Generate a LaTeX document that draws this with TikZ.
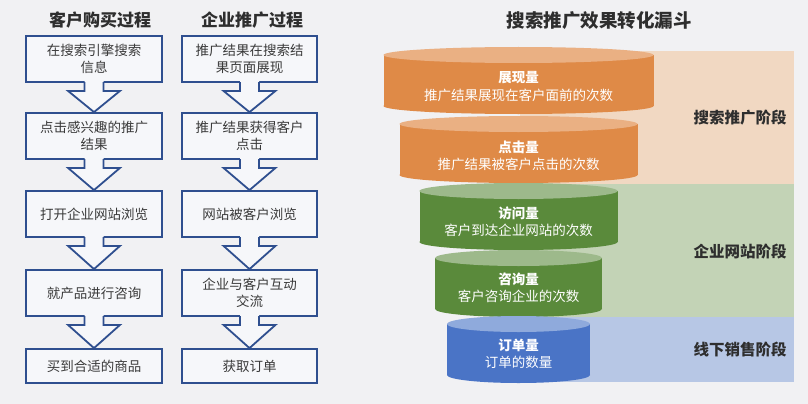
\documentclass[tikz,border=0pt]{standalone}
\usepackage{fontspec}
\setmainfont{Noto Sans CJK SC}
\usetikzlibrary{calc}
\definecolor{bg}{HTML}{F1F1F3}
\definecolor{boxfill}{HTML}{F6F7FA}
\definecolor{boxline}{HTML}{2F4F8F}
\definecolor{txt}{HTML}{3A3A3A}
\definecolor{ttl}{HTML}{2E2E2E}
\definecolor{orbody}{HTML}{DF8A47}
\definecolor{ortop}{HTML}{EAB083}
\definecolor{grbody}{HTML}{5A8A3B}
\definecolor{grtop}{HTML}{9DB98B}
\definecolor{blbody}{HTML}{4A74C6}
\definecolor{bltop}{HTML}{8FAADC}
\definecolor{orband}{HTML}{F1D8C2}
\definecolor{grband}{HTML}{C3D3B6}
\definecolor{blband}{HTML}{B7C7E5}
\tikzset{
  ttlstyle/.style={font=\bfseries\fontsize{17}{20}\selectfont, text=ttl, inner sep=0pt},
  pbox/.style={draw=boxline, line width=1.8pt, fill=boxfill, minimum width=136pt, align=center,
    inner sep=0pt, font=\fontsize{13.5}{16.5}\selectfont, text=txt},
  arrline/.style={draw=boxline, line width=1.8pt, line join=miter},
  cyltitle/.style={font=\bfseries\fontsize{13.5}{16}\selectfont, text=white, inner sep=0pt},
  cyldesc/.style={font=\fontsize{13.5}{16}\selectfont, text=white, inner sep=0pt},
  stagelbl/.style={font=\bfseries\fontsize{15.5}{18}\selectfont, text=ttl, inner sep=0pt}
}
\newcommand{\blockarr}[2]{%
  \fill[boxfill] ($(#1.south)+(-9.5,-2)$) -- ($(#1.south)+(-9.5,8)$) -- ($(#1.south)+(-26,8)$) -- (#2.north)
     -- ($(#1.south)+(26,8)$) -- ($(#1.south)+(9.5,8)$) -- ($(#1.south)+(9.5,-2)$) -- cycle;
  \draw[arrline] ($(#1.south)+(-9.5,-0.9)$) -- ($(#1.south)+(-9.5,8)$) -- ($(#1.south)+(-26,8)$) -- (#2.north)
     -- ($(#1.south)+(26,8)$) -- ($(#1.south)+(9.5,8)$) -- ($(#1.south)+(9.5,-0.9)$);
}
% cylinder: name, cx, rx, T, body, top
\newcommand{\cyl}[6]{%
  \fill[#5] ({#2-#3},{#4+8}) rectangle ({#2+#3},{#4+59});
  \fill[#5] (#2,{#4+59}) ellipse [x radius=#3pt, y radius=8pt];
  \fill[#6] (#2,{#4+8}) ellipse [x radius=#3pt, y radius=8pt];
  \coordinate (#1) at (#2,{#4+39});
}
\begin{document}
\begin{tikzpicture}[x=1pt,y=-1pt]
\useasboundingbox (0,0) rectangle (808,404);
\fill[bg] (0,0) rectangle (808,404);

% titles
\node[ttlstyle] (t1) at (100,20) {客户购买过程};
\node[ttlstyle] (t2) at (252,20) {企业推广过程};
\node[ttlstyle, font=\bfseries\fontsize{18.5}{21}\selectfont] (t3) at (599,21) {搜索推广效果转化漏斗};

% left column
\node[pbox, minimum height=46pt] (a1) at (94,59) {在搜索引擎搜索\\信息};
\node[pbox, minimum height=46pt] (a2) at (94,136) {点击感兴趣的推广\\结果};
\node[pbox, minimum height=46pt] (a3) at (94,214) {打开企业网站浏览};
\node[pbox, minimum height=46pt] (a4) at (94,293) {就产品进行咨询};
\node[pbox, minimum height=34pt] (a5) at (94,366) {买到合适的商品};

% right column
\node[pbox, minimum height=46pt, minimum width=135pt] (b1) at (249.5,59) {推广结果在搜索结\\果页面展现};
\node[pbox, minimum height=46pt, minimum width=135pt] (b2) at (249.5,136) {推广结果获得客户\\点击};
\node[pbox, minimum height=46pt, minimum width=135pt] (b3) at (249.5,214) {网站被客户浏览};
\node[pbox, minimum height=46pt, minimum width=135pt] (b4) at (249.5,293) {企业与客户互动\\交流};
\node[pbox, minimum height=34pt, minimum width=135pt] (b5) at (249.5,366) {获取订单};

\blockarr{a1}{a2}
\blockarr{a2}{a3}
\blockarr{a3}{a4}
\blockarr{a4}{a5}
\blockarr{b1}{b2}
\blockarr{b2}{b3}
\blockarr{b3}{b4}
\blockarr{b4}{b5}

% bands
\fill[orband] (520,51) rectangle (794,184);
\fill[grband] (520,184) rectangle (794,317);
\fill[blband] (520,317) rectangle (794,382);

\node[stagelbl] (s1) at (740,118) {搜索推广阶段};
\node[stagelbl] (s2) at (740,252) {企业网站阶段};
\node[stagelbl] (s3) at (740,350) {线下销售阶段};

% funnel
\cyl{c1}{518.5}{135}{47}{orbody}{ortop}
\cyl{c2}{518.5}{119}{116}{orbody}{ortop}
\cyl{c3}{518.5}{99}{183}{grbody}{grtop}
\cyl{c4}{518.5}{83.5}{250}{grbody}{grtop}
\cyl{c5}{518.5}{71.5}{316}{blbody}{bltop}

\node[cyltitle] (c1t) at (518.5,78) {展现量};
\node[cyldesc] (c1d) at (518.5,95) {推广结果展现在客户面前的次数};
\node[cyltitle] (c2t) at (518.5,147) {点击量};
\node[cyldesc] (c2d) at (518.5,164) {推广结果被客户点击的次数};
\node[cyltitle] (c3t) at (518.5,213) {访问量};
\node[cyldesc] (c3d) at (518.5,230) {客户到达企业网站的次数};
\node[cyltitle] (c4t) at (518.5,279) {咨询量};
\node[cyldesc] (c4d) at (518.5,296) {客户咨询企业的次数};
\node[cyltitle] (c5t) at (518.5,345) {订单量};
\node[cyldesc] (c5d) at (518.5,362) {订单的数量};
\end{tikzpicture}
\end{document}
